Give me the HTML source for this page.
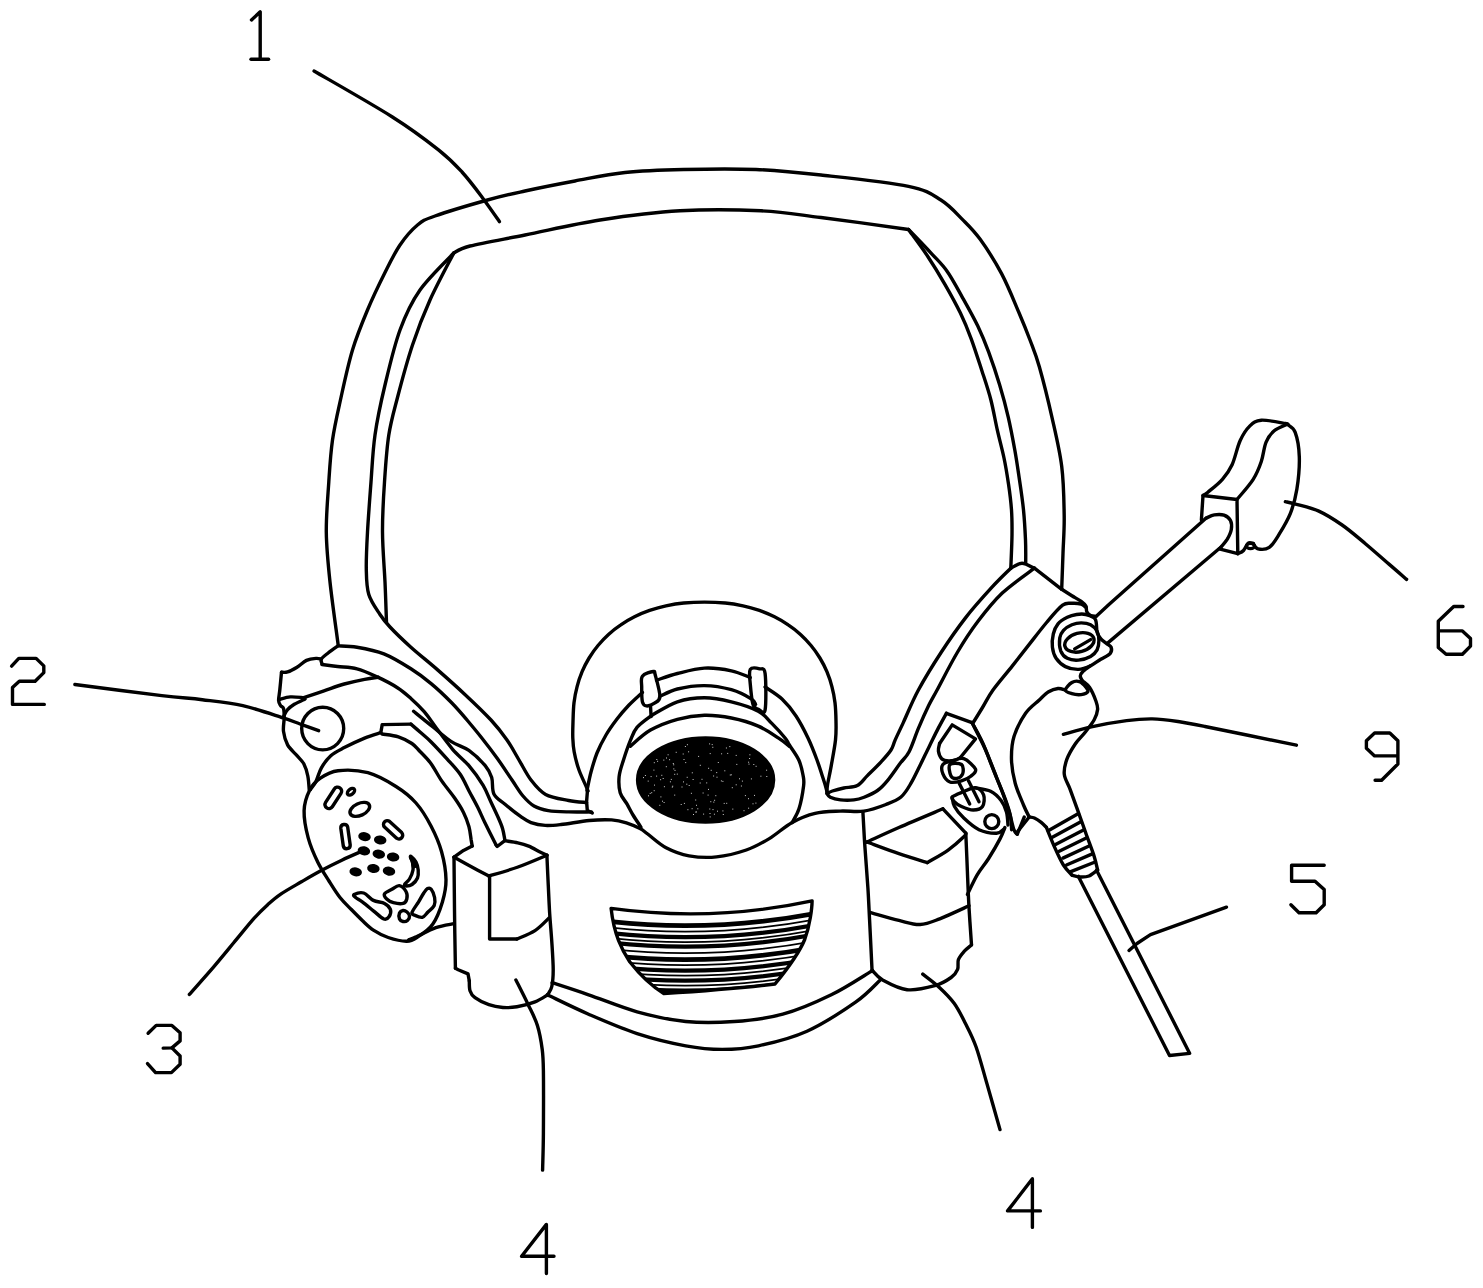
<!DOCTYPE html>
<html><head><meta charset="utf-8"><title>Mask drawing</title>
<style>
html,body{margin:0;padding:0;background:#fff;}
body{width:1483px;height:1288px;overflow:hidden;font-family:"Liberation Sans",sans-serif;}
svg{display:block;}
</style></head><body>
<svg width="1483" height="1288" viewBox="0 0 1483 1288">
<rect width="1483" height="1288" fill="#fff"/>
<g fill="none" stroke="#000" stroke-width="3.4" stroke-linecap="round" stroke-linejoin="round">
<path d="M251.5,19.9 L260.2,11.8 L260.2,59.3"/>
<path d="M251.0,59.3 L268.6,59.3"/>
<path d="M314.0,71.0C327.0,78.6 371.2,103.6 392.0,116.7C412.8,129.8 426.8,140.6 438.5,149.8C450.2,159.0 454.6,163.9 462.0,172.0C469.4,180.1 476.8,190.1 483.0,198.4C489.2,206.7 496.8,217.8 499.5,221.7"/>
<path d="M11.6,666.1 L18.8,658.4 L36.1,658.4 L43.8,665.9 L43.8,672.6 L35.1,681.3 L19.3,681.3 L12.5,687.6 L12.5,704.4 L44.3,704.4"/>
<path d="M74.9,684.5C89.4,686.4 140.6,693.1 161.8,695.6C183.0,698.1 188.8,698.0 202.3,699.7C215.8,701.4 229.3,702.7 242.8,705.7C256.3,708.7 273.7,714.9 283.2,717.9C292.7,720.9 294.1,721.9 300.0,724.0C305.9,726.1 315.5,729.6 318.6,730.7"/>
<path d="M148.1,1033.3 L156.2,1025.4 L171.9,1025.4 L180.1,1032.7 L180.1,1040.9 L171.9,1047.9 L163.2,1048.1"/>
<path d="M171.9,1047.9 L180.1,1056.0 L180.1,1064.2 L171.4,1072.6 L155.6,1072.6 L147.5,1063.6"/>
<path d="M189.4,994.4C193.4,989.8 206.3,975.4 213.7,966.8C221.1,958.1 227.2,950.6 233.9,942.5C240.7,934.4 248.6,924.5 254.2,918.2C259.8,911.9 263.2,908.8 267.7,904.7C272.2,900.7 275.5,897.7 281.1,893.9C286.7,890.1 294.9,885.6 301.4,881.8C307.9,878.0 313.6,874.6 320.3,871.0C327.0,867.4 334.8,863.5 341.8,860.2C348.8,856.9 359.1,852.5 362.5,851.0"/>
<path d="M546.4,1273.5 L546.4,1224.4 L521.6,1256.3 L554.0,1256.3"/>
<path d="M515.9,980.0C517.9,984.0 524.2,996.3 527.8,1003.9C531.4,1011.5 535.0,1017.8 537.4,1025.4C539.8,1033.0 541.2,1041.7 542.2,1049.3C543.2,1056.9 543.2,1057.0 543.4,1070.9C543.6,1084.9 543.5,1116.5 543.4,1133.0C543.3,1149.5 542.7,1163.9 542.6,1170.1"/>
<path d="M1032.4,1227.4 L1032.4,1178.8 L1007.6,1210.9 L1040.4,1210.9"/>
<path d="M922.8,974.1C925.5,976.3 933.9,982.3 939.1,987.2C944.4,992.1 949.9,997.5 954.3,1003.5C958.6,1009.5 961.6,1015.8 965.2,1023.0C968.8,1030.2 972.5,1036.8 976.1,1047.0C979.7,1057.2 983.0,1070.1 987.0,1083.9C991.0,1097.7 997.8,1122.0 1000.0,1129.6"/>
<path d="M1324.2,865.3 L1291.6,865.3 L1291.6,881.2 L1315.0,881.2 L1324.2,889.6 L1324.2,904.7 L1316.1,912.8 L1299.0,912.8 L1290.9,904.7"/>
<path d="M1129.0,950.5 L1137.0,943.5 L1150.5,934.6 L1226.5,907.2"/>
<path d="M1463.0,606.5 L1453.7,606.5 L1438.3,621.3 L1438.3,647.5 L1446.1,654.3 L1462.4,654.3 L1470.5,646.1 L1470.5,638.5 L1462.4,630.9 L1438.3,630.9"/>
<path d="M1285.4,501.7C1287.1,502.1 1289.9,502.5 1295.5,504.1C1301.1,505.7 1311.0,507.6 1318.8,511.1C1326.6,514.6 1334.3,519.6 1342.1,525.0C1349.9,530.4 1357.6,537.2 1365.4,543.7C1373.2,550.2 1381.8,558.0 1388.7,563.9C1395.6,569.8 1403.6,576.8 1406.6,579.4"/>
<path d="M1397.9,755.9 L1374.6,755.9 L1366.4,748.3 L1366.4,740.7 L1374.6,733.0 L1389.8,733.0 L1397.9,740.7 L1397.9,764.0 L1381.6,780.3 L1375.1,780.3"/>
<path d="M1063.4,734.3C1068.2,733.0 1082.0,728.9 1092.5,726.6C1103.0,724.3 1116.6,721.9 1126.6,720.6C1136.6,719.3 1143.8,718.8 1152.3,718.9C1160.8,719.0 1169.1,720.2 1177.9,721.5C1186.7,722.8 1185.2,722.5 1205.0,726.5C1224.8,730.5 1281.2,742.1 1296.4,745.2"/>
<path d="M338.1,644.5C336.8,634.1 332.0,600.8 330.0,582.0C328.0,563.2 326.5,548.7 326.3,532.0C326.1,515.3 327.8,497.3 328.8,482.0C329.8,466.7 330.5,454.1 332.5,440.0C334.5,425.9 337.7,412.5 341.0,397.5C344.3,382.5 348.1,364.6 352.5,350.0C356.9,335.4 362.1,322.9 367.5,310.0C372.9,297.1 379.6,283.3 385.0,272.5C390.4,261.7 394.6,252.9 400.0,245.0C405.4,237.1 411.7,229.8 417.5,225.0C423.3,220.2 423.3,220.2 435.0,216.0C446.7,211.8 472.5,204.2 487.5,200.0C502.5,195.8 510.4,194.2 525.0,191.0C539.6,187.8 558.3,184.1 575.0,181.0C591.7,177.9 606.9,174.4 625.0,172.5C643.1,170.6 661.7,170.0 683.5,169.5C705.3,169.0 733.1,168.6 756.0,169.5C778.9,170.4 795.6,172.2 821.0,175.0C846.4,177.8 888.5,182.1 908.5,186.3C928.5,190.5 931.9,194.4 940.9,200.0C949.9,205.6 956.1,213.1 962.6,219.6C969.1,226.1 973.5,230.1 980.0,239.1C986.5,248.1 995.2,261.6 1001.7,273.9C1008.2,286.2 1014.4,302.0 1019.1,313.0C1023.8,324.0 1026.6,331.0 1030.0,340.0C1033.4,349.0 1035.8,354.2 1039.4,367.0C1043.0,379.8 1048.1,400.1 1051.8,416.6C1055.5,433.2 1059.6,449.7 1061.7,466.3C1063.8,482.9 1064.0,501.5 1064.2,516.0C1064.4,530.5 1063.4,541.1 1063.0,553.3C1062.6,565.5 1061.9,583.0 1061.7,589.0"/>
<path d="M453.8,253.0C456.5,251.8 458.1,249.0 470.0,246.0C481.9,243.0 503.3,239.3 525.0,235.0C546.7,230.7 574.2,224.0 600.0,220.0C625.8,216.0 653.2,212.3 680.0,210.8C706.8,209.3 737.5,209.7 761.0,210.8C784.5,211.9 796.4,214.4 821.0,217.5C845.6,220.6 893.9,227.5 908.5,229.5"/>
<path d="M453.8,253.0C448.2,259.2 429.0,277.2 420.0,290.0C411.0,302.8 405.8,314.2 400.0,330.0C394.2,345.8 389.2,367.5 385.0,385.0C380.8,402.5 377.3,418.8 375.0,435.0C372.7,451.2 372.2,465.8 371.0,482.0C369.8,498.2 368.3,517.4 367.5,532.0C366.7,546.6 366.1,559.1 366.3,569.5C366.5,579.9 366.5,587.0 368.8,594.5C371.1,602.0 376.5,609.1 380.0,614.5C383.5,619.9 384.9,621.5 390.0,627.0C395.1,632.5 402.9,640.0 410.9,647.2C418.9,654.4 428.9,662.2 437.9,670.1C446.9,678.0 456.0,686.1 464.9,694.4C473.8,702.7 484.0,712.4 491.0,720.0C498.0,727.6 502.3,733.3 507.0,740.0C511.7,746.7 515.0,753.3 519.0,760.0C523.0,766.7 526.6,774.3 531.0,780.0C535.4,785.7 539.3,791.0 545.6,794.4C551.9,797.8 561.8,799.1 568.6,800.5C575.4,801.9 583.5,802.2 586.5,802.5"/>
<path d="M453.8,253.0C449.8,260.8 436.9,284.7 430.0,300.0C423.1,315.3 417.9,328.8 412.5,345.0C407.1,361.2 401.4,382.5 397.5,397.5C393.6,412.5 391.0,420.9 388.8,435.0C386.6,449.1 385.6,465.8 384.5,482.0C383.4,498.2 382.4,515.3 382.5,532.0C382.6,548.7 384.3,567.0 385.0,582.0C385.7,597.0 386.2,615.3 386.5,622.0"/>
<path d="M908.5,229.5C911.7,234.0 921.7,247.3 927.8,256.5C933.9,265.7 939.8,275.4 945.2,284.8C950.6,294.2 956.0,303.9 960.4,313.0C964.8,322.1 967.7,329.3 971.3,339.1C974.9,348.9 978.9,361.6 982.2,371.7C985.5,381.8 988.4,390.2 990.9,400.0C993.4,409.8 995.2,420.7 997.4,430.4C999.6,440.1 1002.1,449.1 1004.0,458.0C1005.9,466.9 1007.2,475.3 1008.5,484.0C1009.8,492.7 1010.9,501.5 1011.5,510.0C1012.1,518.5 1012.1,525.3 1012.0,535.0C1011.9,544.7 1011.0,562.7 1010.8,568.2"/>
<path d="M908.5,229.5C912.5,233.6 925.7,247.3 932.2,254.3C938.7,261.3 942.3,264.4 947.4,271.7C952.5,278.9 957.5,288.7 962.6,297.8C967.7,306.9 973.4,317.0 977.8,326.1C982.1,335.2 985.1,342.4 988.7,352.2C992.3,362.0 996.3,373.9 999.6,384.8C1002.9,395.7 1005.8,406.5 1008.3,417.4C1010.8,428.3 1012.9,439.6 1014.8,450.0C1016.7,460.4 1018.0,470.0 1019.5,480.0C1021.0,490.0 1022.5,500.0 1023.5,510.0C1024.5,520.0 1025.1,531.1 1025.5,540.0C1025.9,548.9 1025.7,559.3 1025.7,563.2"/>
<path d="M1010.8,568.2C1012.7,567.4 1018.1,563.2 1022.0,563.2C1025.9,563.2 1032.3,567.4 1034.4,568.2"/>
<path d="M1034.4,568.2 L1061.7,589.3"/>
<path d="M1061.7,589.3C1063.4,590.4 1068.7,593.8 1071.9,595.8C1075.2,597.8 1078.9,599.7 1081.2,601.4C1083.5,603.1 1085.0,604.4 1085.9,606.1C1086.8,607.8 1086.0,610.2 1086.8,611.7C1087.6,613.2 1089.0,614.6 1090.6,615.4C1092.2,616.2 1095.3,616.1 1096.2,616.3"/>
<path d="M1010.8,568.2C1007.7,571.4 999.5,579.0 992.0,587.2C984.5,595.4 974.1,606.8 965.7,617.6C957.3,628.4 949.3,639.9 941.4,652.0C933.5,664.1 924.8,678.2 918.4,690.0C912.0,701.8 907.2,714.2 903.3,722.6C899.4,731.0 897.1,735.5 895.1,740.1C893.1,744.7 893.4,746.3 891.0,750.0C888.6,753.7 884.8,757.8 880.9,762.1C877.0,766.4 871.3,771.7 867.4,775.6C863.5,779.5 861.2,783.5 857.3,785.6C853.4,787.7 847.9,787.1 843.8,788.0C839.6,788.9 835.2,790.1 832.4,791.0C829.6,791.9 827.9,793.1 827.0,793.5"/>
<path d="M1034.4,568.2C1029.0,572.4 1011.4,584.4 1002.0,593.3C992.6,602.2 985.2,611.8 977.8,621.6C970.4,631.4 964.4,640.6 957.6,652.0C950.8,663.4 941.9,681.1 937.1,690.0C932.3,698.9 932.0,698.7 928.9,705.1C925.8,711.5 921.7,720.6 918.4,728.4C915.1,736.2 912.2,745.9 909.1,751.7C906.0,757.6 903.6,758.7 900.0,763.5C896.4,768.3 891.5,775.8 887.7,780.3C884.0,784.8 881.4,787.7 877.5,790.5C873.6,793.3 868.0,795.6 864.1,797.2C860.2,798.8 857.8,799.5 853.9,799.9C850.0,800.3 844.4,800.3 840.5,799.9C836.6,799.5 832.5,798.3 830.3,797.2C828.0,796.1 827.5,794.1 827.0,793.5"/>
<path d="M973.2,722.6C974.8,720.1 979.2,712.9 982.5,707.5C985.8,702.1 988.0,696.9 993.0,690.0C998.0,683.1 1006.0,673.9 1012.2,666.1C1018.4,658.3 1024.2,650.8 1030.0,643.4C1035.8,636.0 1041.6,628.4 1047.0,622.0C1052.4,615.6 1058.4,608.3 1062.6,605.2C1066.8,602.1 1068.8,603.5 1071.9,603.3C1075.0,603.1 1078.9,603.5 1081.2,604.2C1083.5,604.9 1085.2,607.0 1086.0,607.5"/>
<path d="M1085.9,614.5C1082.8,613.7 1079.7,614.0 1076.6,614.5C1073.5,615.0 1070.4,615.8 1067.3,617.3C1064.2,618.8 1060.3,621.0 1058.0,623.8C1055.7,626.6 1054.2,630.1 1053.3,634.0C1052.4,637.9 1051.9,643.1 1052.4,647.1C1052.9,651.1 1053.9,655.0 1056.1,658.3C1058.3,661.5 1061.7,664.8 1065.4,666.6C1069.1,668.5 1074.2,669.5 1078.4,669.4C1082.6,669.2 1086.9,667.4 1090.6,665.7C1094.3,664.0 1097.5,661.2 1100.8,659.2C1104.0,657.2 1108.4,655.6 1110.1,653.6C1111.8,651.6 1111.7,648.8 1111.1,647.1C1110.5,645.4 1108.1,644.8 1106.4,643.4C1104.7,642.0 1102.3,640.6 1100.8,638.7C1099.2,636.8 1098.0,635.5 1097.1,632.2C1096.2,628.9 1097.1,622.1 1095.2,619.1C1093.3,616.1 1089.0,615.3 1085.9,614.5Z"/>
<path d="M1059.8,637.8C1060.3,634.4 1061.5,632.5 1063.5,630.3C1065.5,628.1 1069.0,625.9 1071.9,624.7C1074.9,623.5 1078.1,622.9 1081.2,622.9C1084.3,622.9 1087.9,623.3 1090.6,624.7C1093.2,626.1 1095.7,628.6 1097.1,631.2C1098.5,633.9 1098.9,637.5 1098.9,640.6C1098.9,643.7 1098.5,647.3 1097.1,649.9C1095.7,652.5 1093.7,654.7 1090.6,656.4C1087.5,658.1 1082.3,659.8 1078.4,660.1C1074.5,660.4 1070.2,659.8 1067.3,658.3C1064.3,656.8 1062.0,654.2 1060.7,650.8C1059.5,647.4 1059.3,641.2 1059.8,637.8Z"/>
<ellipse cx="1079.4" cy="642.4" rx="15" ry="9.3" transform="rotate(-15 1079.4 642.4)"/>
<path d="M1074.7,648.9 L1090.6,639.6"/>
<path d="M1097.1,615.4 L1109.2,604.2 L1206.2,518.1"/>
<path d="M1107.3,643.4 L1220.8,547.3"/>
<path d="M1206.2,518.1C1207.5,517.6 1211.3,515.4 1214.3,514.9C1217.3,514.4 1221.3,514.2 1224.0,515.2C1226.7,516.2 1229.3,518.2 1230.5,520.6C1231.7,523.0 1231.8,526.4 1231.3,529.5C1230.8,532.6 1229.0,536.2 1227.3,539.2C1225.5,542.2 1221.9,545.9 1220.8,547.3"/>
<path d="M1201.4,519.8 L1203.0,495.5 L1237.0,499.5 L1237.8,553.7 L1219.2,548.9"/>
<path d="M1203.0,495.5C1203.8,494.9 1204.7,494.9 1207.9,492.2C1211.1,489.5 1218.4,483.9 1222.4,479.3C1226.4,474.7 1229.1,471.2 1232.1,464.7C1235.1,458.2 1237.2,447.0 1240.2,440.5C1243.2,434.0 1246.4,429.3 1249.9,425.9C1253.4,422.5 1255.4,420.6 1261.3,420.2C1267.2,419.8 1281.2,422.8 1285.5,423.5C1289.8,424.2 1286.9,424.2 1287.2,424.3"/>
<path d="M1237.0,499.5C1239.7,496.1 1249.2,485.6 1253.2,479.3C1257.2,473.0 1259.2,467.7 1261.3,461.5C1263.4,455.3 1263.9,447.2 1266.1,442.1C1268.2,437.0 1270.7,433.7 1274.2,430.7C1277.7,427.7 1285.0,425.4 1287.2,424.3"/>
<path d="M1287.2,424.3C1288.5,425.6 1293.2,427.0 1295.2,432.4C1297.2,437.8 1299.0,447.2 1299.3,456.6C1299.6,466.0 1298.4,479.6 1296.9,489.0C1295.4,498.4 1293.4,505.7 1290.4,513.3C1287.4,520.8 1282.6,528.6 1279.1,534.3C1275.6,540.0 1272.8,544.9 1269.3,547.3C1265.8,549.7 1260.7,549.5 1258.0,548.9C1255.3,548.3 1254.0,544.4 1253.2,543.5"/>
<path d="M1253.2,543.5C1252.4,543.4 1249.9,541.8 1248.3,543.0C1246.7,544.2 1245.2,548.7 1243.5,550.5C1241.8,552.3 1238.8,553.2 1237.8,553.7"/>
<ellipse cx="1250.5" cy="546" rx="4" ry="2.6"/>
<path d="M1065.4,690.0C1064.2,689.8 1060.8,688.2 1058.0,688.5C1055.2,688.8 1051.7,689.9 1048.6,691.8C1045.5,693.7 1043.1,696.4 1039.3,700.0C1035.5,703.6 1029.8,707.2 1025.6,713.3C1021.4,719.4 1016.4,728.8 1014.0,736.6C1011.6,744.4 1011.3,752.2 1011.5,760.0C1011.7,767.8 1013.2,775.7 1015.2,783.2C1017.2,790.7 1021.2,799.4 1023.5,805.0C1025.8,810.6 1028.2,815.0 1029.2,817.0"/>
<path d="M1029.2,817.0C1030.1,817.2 1032.4,817.1 1034.4,818.0C1036.4,818.9 1039.2,820.7 1041.2,822.3C1043.2,823.9 1045.5,826.5 1046.4,827.4"/>
<path d="M1065.4,690.0C1065.4,688.1 1069.6,683.9 1071.9,682.5C1074.2,681.1 1077.1,680.8 1079.4,681.6C1081.7,682.4 1084.5,685.4 1085.9,687.1C1087.3,688.8 1088.6,690.5 1087.8,691.8C1087.0,693.0 1083.8,694.3 1081.2,694.6C1078.6,694.9 1074.5,694.5 1071.9,693.7C1069.3,692.9 1065.4,691.9 1065.4,690.0Z"/>
<path d="M1090.6,665.7C1089.3,666.6 1084.8,669.6 1083.1,671.3C1081.4,673.0 1080.4,674.5 1080.3,676.0C1080.2,677.5 1081.9,679.8 1082.2,680.6"/>
<path d="M1082.2,680.6C1083.4,681.8 1087.3,684.1 1089.6,687.5C1091.9,690.9 1094.6,697.3 1095.9,701.0C1097.2,704.7 1097.9,706.4 1097.6,709.5C1097.3,712.6 1096.2,716.1 1094.2,719.8C1092.2,723.5 1088.7,727.7 1085.6,731.7C1082.5,735.7 1078.5,739.1 1075.4,743.7C1072.3,748.3 1068.8,754.0 1066.9,759.1C1065.1,764.2 1063.7,769.3 1064.3,774.4C1064.9,779.5 1068.2,784.1 1070.3,789.8C1072.4,795.5 1074.5,801.5 1077.1,808.6C1079.6,815.7 1082.8,824.5 1085.6,832.5C1088.4,840.5 1092.2,850.1 1094.2,856.4C1096.2,862.6 1097.0,867.7 1097.6,870.0"/>
<path d="M1046.4,827.4C1047.8,830.8 1052.1,841.6 1054.9,847.9C1057.7,854.2 1060.6,860.5 1063.4,865.0C1066.2,869.5 1070.6,873.5 1072.0,875.2"/>
<path d="M1072.0,875.2C1073.3,875.5 1077.2,876.9 1080.0,877.0C1082.8,877.1 1086.1,877.2 1089.0,876.0C1091.9,874.8 1096.2,871.0 1097.6,870.0"/>
<path d="M1078.4,876.4 L1169.5,1055.5 L1189.7,1053.4 L1096.6,870.3"/>
<path d="M1024.2,817.1 L1017.3,834.2"/>
<path d="M1029.2,817.0 L1016.3,833.2"/>
<path d="M1048.2,830.8 L1078.5,813.5"/>
<path d="M1051.9,837.6 L1081.3,821.6"/>
<path d="M1055.5,844.5 L1084.0,829.7"/>
<path d="M1059.2,851.3 L1086.8,837.8"/>
<path d="M1062.9,858.1 L1089.6,845.8"/>
<path d="M1066.5,865.0 L1092.3,853.9"/>
<path d="M1070.2,871.8 L1095.1,862.0"/>
<path d="M946.4,713.3 L972.0,722.6"/>
<path d="M972.0,722.6C973.8,725.9 978.8,734.2 982.5,742.4C986.2,750.5 990.6,762.8 994.1,771.5C997.6,780.2 1000.9,788.0 1003.4,794.8C1005.9,801.6 1007.5,806.5 1009.3,812.3C1011.0,818.1 1012.6,826.1 1013.9,829.7C1015.2,833.4 1016.7,833.5 1017.3,834.2"/>
<path d="M972.0,722.6C974.1,726.9 980.7,739.1 984.8,748.2C988.9,757.3 993.0,768.6 996.5,777.3C1000.0,786.0 1003.5,794.2 1005.8,800.6C1008.1,807.0 1009.4,810.9 1010.4,815.8C1011.4,820.6 1011.4,827.4 1011.6,829.7"/>
<path d="M939.6,743.5 L952.2,724.9 L975.5,738.9 L960.4,757.5"/>
<path d="M960.4,757.5C959.5,758.0 957.0,759.6 955.0,760.2C953.0,760.8 950.9,761.2 948.7,761.0C946.5,760.8 943.4,760.4 941.7,758.7C940.0,757.0 938.8,753.5 938.4,751.0C938.0,748.5 939.4,744.8 939.6,743.5"/>
<path d="M942.9,764.5C944.5,762.4 948.7,762.0 952.2,761.0C955.7,760.0 959.9,757.3 963.8,758.7C967.7,760.1 974.3,766.3 975.5,769.2C976.7,772.1 973.1,774.3 970.8,776.2C968.5,778.1 965.0,779.8 961.5,780.8C958.0,781.8 953.0,783.2 949.9,782.0C946.8,780.8 944.1,776.7 942.9,773.8C941.7,770.9 941.3,766.6 942.9,764.5Z"/>
<path d="M949.9,764.5C951.6,762.6 959.4,763.0 961.5,764.5C963.6,766.0 963.5,771.5 962.7,773.8C961.9,776.1 958.9,778.0 956.9,778.4C954.9,778.8 952.2,778.3 951.0,776.0C949.8,773.7 948.1,766.4 949.9,764.5Z"/>
<path d="M959.2,783.2 L969.7,804.1"/>
<path d="M968.5,780.8 L979.0,801.8"/>
<path d="M952.2,797.1C953.4,795.6 957.6,794.0 961.5,792.5C965.4,791.0 971.8,787.4 975.5,787.8C979.2,788.2 982.4,791.7 983.6,794.8C984.8,797.9 984.2,804.0 982.5,806.5C980.8,809.0 976.7,810.0 973.2,810.0C969.7,810.0 964.6,807.9 961.5,806.5C958.4,805.1 956.0,803.4 954.5,801.8C953.0,800.2 951.0,798.6 952.2,797.1Z"/>
<path d="M952.2,797.1C952.6,798.7 952.6,803.0 954.5,806.5C956.4,810.0 959.7,814.2 963.8,818.1C967.9,822.0 973.5,827.2 979.0,829.7C984.5,832.2 992.3,833.3 996.5,833.2C1000.7,833.1 1002.8,829.7 1004.0,829.0"/>
<path d="M975.5,787.8C978.0,788.4 986.3,789.2 990.6,791.3C994.9,793.4 998.5,797.1 1001.1,800.6C1003.8,804.1 1005.4,807.9 1006.5,812.0C1007.6,816.1 1007.8,822.8 1008.0,825.0"/>
<ellipse cx="991.8" cy="821.6" rx="7" ry="7"/>
<path d="M967.4,894.4C969.0,891.1 973.7,880.8 977.2,874.8C980.7,868.8 984.8,864.5 988.6,858.5C992.4,852.5 997.3,844.1 1000.0,838.9C1002.7,833.7 1004.1,829.4 1004.9,827.5"/>
<path d="M587.5,790.0 L586.6,801.5 L587.3,810.5 L592.3,813.0"/>
<path d="M588.0,791.0C587.6,790.1 587.4,789.4 585.9,785.9C584.4,782.4 581.0,775.6 579.0,770.0C577.0,764.4 575.2,757.3 574.2,752.0C573.2,746.7 573.0,743.1 572.8,738.0C572.6,732.9 572.8,727.5 573.0,721.6C573.2,715.7 573.3,708.7 574.0,702.8C574.7,697.0 575.7,691.8 577.1,686.6C578.4,681.4 580.1,676.5 582.1,671.7C584.1,666.9 586.5,662.3 589.1,658.0C591.8,653.6 594.7,649.4 598.0,645.5C601.2,641.6 604.7,637.8 608.5,634.4C612.3,630.9 616.4,627.7 620.8,624.8C625.1,621.8 629.7,619.1 634.5,616.7C639.3,614.4 644.3,612.2 649.6,610.4C654.8,608.6 660.3,607.0 666.0,605.8C671.7,604.6 677.4,603.6 683.8,603.0C690.3,602.4 697.6,602.1 704.5,602.1C711.4,602.1 718.7,602.4 725.2,603.0C731.6,603.6 737.3,604.6 743.0,605.8C748.7,607.0 754.2,608.6 759.4,610.4C764.7,612.2 769.7,614.4 774.5,616.7C779.3,619.1 783.9,621.8 788.2,624.8C792.6,627.7 796.7,630.9 800.5,634.4C804.3,637.8 807.8,641.6 811.0,645.5C814.3,649.4 817.2,653.6 819.9,658.0C822.5,662.3 824.9,666.9 826.9,671.7C828.9,676.5 830.6,681.4 831.9,686.6C833.3,691.8 834.3,697.0 835.0,702.8C835.7,708.7 835.9,715.4 836.0,721.6C836.1,727.8 836.3,732.7 835.5,740.0C834.7,747.3 832.6,757.9 831.3,765.4C830.0,772.9 828.2,780.6 827.5,785.0C826.8,789.4 827.1,790.8 827.0,792.0"/>
<path d="M587.0,790.4C587.7,787.3 589.3,778.2 591.0,772.0C592.7,765.8 594.5,759.2 597.0,753.0C599.5,746.8 602.7,740.7 606.0,735.0C609.3,729.3 613.2,724.0 617.0,719.0C620.8,714.0 624.8,709.4 629.0,705.0C633.2,700.6 640.2,694.5 642.4,692.4"/>
<path d="M765.1,687.0C767.9,689.0 776.9,694.2 782.0,699.0C787.1,703.8 791.7,709.5 796.0,716.0C800.3,722.5 804.5,730.7 808.0,738.0C811.5,745.3 814.7,753.8 817.0,760.0C819.3,766.2 820.6,770.7 822.0,775.0C823.4,779.3 824.7,783.2 825.5,786.0C826.3,788.8 826.8,791.0 827.0,792.0"/>
<path d="M656.5,680.2C660.0,679.1 669.4,675.5 677.4,673.5C685.4,671.5 695.4,668.6 704.4,668.1C713.4,667.6 723.8,669.2 731.4,670.8C739.0,672.4 747.1,676.4 750.3,677.5"/>
<path d="M659.9,696.4C662.8,695.2 670.0,690.8 677.4,689.0C684.8,687.2 695.4,685.5 704.4,685.6C713.4,685.7 723.5,687.5 731.4,689.7C739.3,692.0 747.6,696.6 751.6,699.1C755.6,701.6 754.9,703.6 755.6,704.5"/>
<path d="M642.4,676.2C644.3,673.6 651.1,671.7 653.2,671.5C655.3,671.3 654.1,670.6 655.2,674.8C656.3,678.9 660.0,691.7 659.9,696.4C659.8,701.1 656.8,701.6 654.5,703.2C652.2,704.8 648.4,706.1 646.4,705.9C644.4,705.7 643.2,704.9 642.4,701.8C641.6,698.6 641.7,691.3 641.7,687.0C641.7,682.7 640.5,678.8 642.4,676.2Z"/>
<path d="M750.3,669.4C751.9,666.8 757.2,668.1 759.7,668.8C762.2,669.5 764.2,666.6 765.1,673.5C766.0,680.4 766.2,703.9 765.1,709.9C764.0,715.9 760.3,710.1 758.3,709.2C756.3,708.3 754.3,708.6 753.0,704.5C751.7,700.4 750.8,690.1 750.3,684.3C749.8,678.4 748.7,672.0 750.3,669.4Z"/>
<path d="M650.5,705.9 L651.1,716.6"/>
<path d="M651.8,715.3C656.1,713.0 668.6,704.7 677.4,701.8C686.2,698.9 695.4,697.8 704.4,697.8C713.4,697.8 722.4,699.6 731.4,701.8C740.4,704.0 751.6,707.6 758.3,711.2C765.0,714.8 767.3,718.9 771.8,723.4C776.3,727.9 782.4,734.6 785.3,738.2C788.2,741.8 787.1,741.4 789.4,745.0C791.6,748.6 796.5,755.0 798.8,760.0C801.1,765.0 802.2,770.7 803.0,775.0C803.8,779.3 804.3,780.3 803.6,785.9C802.9,791.5 800.9,802.7 799.0,808.8C797.1,814.9 793.3,820.2 792.2,822.5"/>
<path d="M651.8,715.3C649.3,717.3 640.6,723.1 637.0,727.4C633.4,731.7 632.5,735.5 630.2,740.9C628.0,746.3 625.4,754.0 623.5,760.0C621.6,766.0 619.6,771.2 619.1,776.7C618.6,782.2 618.9,788.1 620.2,792.7C621.5,797.3 625.0,800.5 627.1,804.2C629.2,807.9 630.7,811.2 633.0,815.0C635.3,818.8 639.6,825.1 640.9,827.1"/>
<path d="M630.2,746.3C633.6,743.6 642.6,734.6 650.5,730.1C658.4,725.6 668.4,721.8 677.4,719.3C686.4,716.8 695.4,715.5 704.4,715.3C713.4,715.1 722.4,716.2 731.4,718.0C740.4,719.8 750.4,722.7 758.3,726.1C766.2,729.5 773.4,734.8 778.6,738.2C783.8,741.6 787.6,744.9 789.4,746.3"/>
<ellipse cx="705.6" cy="780" rx="68" ry="42" fill="#000"/>
<path d="M413.6,711.3C416.8,713.9 426.7,722.0 433.0,727.0C439.3,732.0 445.4,737.7 451.4,741.6C457.4,745.5 463.3,746.4 468.9,750.4C474.5,754.4 481.4,761.2 485.2,765.7C489.0,770.2 490.2,772.9 491.7,777.6C493.1,782.3 491.7,789.5 493.9,793.9C496.1,798.3 500.2,800.2 504.7,804.0C509.2,807.8 516.5,813.6 520.9,816.7C525.3,819.8 527.0,821.2 531.0,822.6C535.0,824.0 540.2,825.1 545.2,825.4C550.2,825.7 553.6,825.3 561.0,824.5C568.4,823.7 580.9,821.3 589.3,820.5C597.7,819.7 605.4,819.5 611.6,819.9C617.8,820.3 621.7,821.4 626.4,822.9C631.1,824.4 636.5,826.8 640.0,828.6C643.5,830.5 643.4,830.8 647.7,834.0C652.1,837.2 659.2,844.1 666.1,847.7C673.0,851.3 680.6,854.3 689.0,855.8C697.4,857.3 707.0,857.9 716.5,856.9C726.0,855.9 737.5,853.0 746.3,850.0C755.1,847.0 761.6,843.2 769.3,838.6C776.9,834.0 784.6,826.7 792.2,822.5C799.8,818.3 807.1,815.3 815.1,813.4C823.1,811.5 832.1,811.5 840.2,811.1C848.3,810.7 856.2,812.2 863.8,811.1C871.4,810.0 879.8,806.9 886.0,804.5C892.2,802.1 896.8,800.5 901.0,797.0C905.2,793.5 907.8,788.6 911.0,783.2C914.2,777.8 917.4,770.7 920.5,764.5C923.6,758.3 926.5,751.9 929.5,745.9C932.5,739.9 935.4,733.8 938.2,728.4C941.0,723.0 945.0,715.8 946.4,713.3"/>
<path d="M546.9,855.2C547.1,860.3 547.8,876.1 548.3,885.9C548.8,895.7 549.1,904.5 549.7,913.8C550.3,923.1 551.2,932.5 551.8,941.8C552.4,951.1 553.2,962.2 553.2,969.7C553.2,977.2 552.7,982.3 551.8,986.5C550.9,990.7 548.3,993.5 547.6,994.9"/>
<path d="M862.9,812.0C863.2,817.3 863.9,831.2 864.7,843.8C865.5,856.4 867.1,875.0 867.9,887.8C868.7,900.6 868.9,906.8 869.6,920.4C870.3,934.0 871.6,961.2 872.0,969.4"/>
<path d="M552.1,982.7C558.2,984.7 574.4,989.9 588.6,994.8C602.8,999.6 620.9,1007.3 637.1,1011.8C653.3,1016.2 669.5,1019.9 685.7,1021.5C701.9,1023.1 718.0,1022.7 734.2,1021.5C750.4,1020.3 766.6,1018.7 782.8,1014.2C799.0,1009.8 816.3,1002.1 831.3,994.8C846.3,987.5 865.7,974.5 872.6,970.5"/>
<path d="M547.3,994.8C554.2,998.0 573.6,1007.7 588.6,1014.2C603.6,1020.7 620.9,1028.3 637.1,1033.6C653.3,1038.9 671.5,1043.2 685.7,1045.8C699.9,1048.4 710.0,1049.4 722.1,1049.4C734.2,1049.4 744.4,1048.8 758.5,1045.8C772.6,1042.8 790.8,1038.5 807.0,1031.2C823.2,1023.9 843.4,1010.6 855.6,1002.1C867.8,993.6 875.9,983.9 880.0,980.2"/>
<path d="M338.1,645.9C341.2,646.1 349.4,645.9 357.0,647.2C364.6,648.5 374.9,650.3 383.9,653.9C392.9,657.5 403.0,663.8 410.9,668.8C418.8,673.8 424.4,678.0 431.1,683.6C437.9,689.2 445.4,696.4 451.4,702.5C457.4,708.6 462.1,714.2 467.0,720.0C471.9,725.8 476.0,730.7 481.0,737.0C486.0,743.3 491.8,750.8 497.0,758.0C502.2,765.2 507.7,773.7 512.0,780.0C516.3,786.3 519.3,791.7 523.0,796.0C526.7,800.3 529.8,803.6 534.0,806.0C538.2,808.4 542.5,809.6 548.3,810.6C554.1,811.6 561.4,811.7 568.6,811.9C575.8,812.1 587.7,811.9 591.5,811.9"/>
<path d="M337.6,646.2C336.0,647.3 330.8,650.9 328.1,653.0C325.4,655.1 322.4,657.2 321.4,659.0C320.4,660.8 321.9,663.0 322.0,663.8"/>
<path d="M322.0,664.5C324.6,664.8 331.8,665.8 337.6,666.5C343.4,667.2 350.4,667.1 357.0,668.8C363.6,670.5 370.5,673.8 377.2,676.9C383.9,680.0 391.8,684.1 397.4,687.7C403.0,691.3 406.4,694.4 410.9,698.4C415.4,702.4 420.2,707.0 424.4,711.9C428.6,716.8 431.6,721.8 436.3,728.0C441.0,734.2 447.2,743.0 452.6,749.3C458.0,755.6 463.8,759.7 468.9,765.7C474.0,771.7 479.4,779.2 483.0,785.2C486.6,791.2 488.1,796.1 490.7,801.5C493.2,806.9 496.3,813.3 498.3,817.8C500.3,822.3 501.5,825.1 502.6,828.7C503.7,832.3 504.4,837.8 504.8,839.6"/>
<path d="M321.4,659.0C320.5,658.9 318.5,658.2 316.0,658.4C313.5,658.6 309.7,658.9 306.5,660.4C303.3,661.9 300.1,665.3 297.0,667.2C293.9,669.1 290.2,671.1 287.6,671.9C285.0,672.7 282.5,672.2 281.5,672.2"/>
<path d="M281.5,672.2C281.2,675.2 280.3,685.3 279.8,690.0C279.3,694.7 278.5,697.9 278.6,700.5C278.7,703.1 279.8,704.4 280.6,705.7C281.4,707.0 282.9,706.4 283.5,708.4C284.1,710.4 284.2,714.0 284.2,717.8C284.2,721.6 282.9,726.9 283.5,731.4C284.1,735.9 285.4,740.8 287.6,744.9C289.9,749.0 294.3,752.6 297.0,755.7C299.7,758.9 302.0,760.4 303.8,763.8C305.6,767.2 306.9,771.7 307.8,776.0C308.7,780.3 309.0,787.2 309.2,789.5"/>
<path d="M279.0,699.5C280.9,699.1 286.2,697.2 290.3,696.9C294.4,696.6 301.6,697.5 303.8,697.6"/>
<path d="M303.8,697.6C307.2,696.5 317.2,693.1 324.0,690.8C330.8,688.5 337.5,685.9 344.3,684.0C351.1,682.1 359.0,680.4 364.6,679.3C370.2,678.2 375.8,677.6 378.0,677.3"/>
<path d="M283.5,716.5C284.2,715.4 285.8,711.7 287.6,709.7C289.4,707.7 291.4,706.1 294.3,704.3C297.2,702.5 303.3,699.8 305.1,698.9"/>
<ellipse cx="322.7" cy="728.6" rx="21" ry="21.3"/>
<path d="M380.8,732.7 L382.2,724.6 L410.9,724.1"/>
<path d="M410.9,724.1C412.4,725.4 416.7,729.1 420.0,732.0C423.3,734.9 426.4,737.2 430.9,741.7C435.4,746.2 442.3,753.7 447.2,759.1C452.1,764.5 456.6,769.0 460.2,774.3C463.8,779.6 466.0,785.2 468.9,790.7C471.8,796.2 474.9,801.6 477.6,807.0C480.3,812.4 482.1,817.0 485.2,823.3C488.3,829.6 494.3,841.4 496.1,845.0"/>
<path d="M380.8,732.7C378.1,733.6 370.7,735.6 364.6,738.1C358.5,740.6 349.9,744.7 344.3,747.6C338.7,750.5 334.6,752.3 330.8,755.7C327.0,759.1 323.9,763.5 321.4,767.8C318.9,772.1 317.8,777.8 316.0,781.4C314.2,785.0 311.4,788.1 310.5,789.5"/>
<path d="M382.2,734.0C384.9,734.5 393.4,735.2 398.4,736.8C403.3,738.4 408.3,741.0 411.9,743.5C415.5,746.0 416.8,748.2 420.0,751.5C423.2,754.8 427.3,758.6 430.9,763.5C434.5,768.4 437.7,775.1 441.7,780.9C445.7,786.7 451.2,793.0 454.8,798.3C458.4,803.5 461.1,807.7 463.5,812.4C465.9,817.1 467.6,822.0 468.9,826.5C470.2,831.0 470.6,836.3 471.1,839.6C471.7,842.9 472.0,845.0 472.2,846.1"/>
<path d="M472.2,846.1 L463.5,850.4 L454.0,857.2"/>
<path d="M496.1,845.0 L497.2,846.5 L504.8,840.7"/>
<path d="M309.5,790.4C312.2,785.0 315.6,781.5 320.4,778.2C325.1,774.9 330.1,771.6 338.0,770.7C345.9,769.8 358.2,770.1 367.9,772.7C377.6,775.3 388.0,781.5 396.0,786.5C404.0,791.5 410.2,796.4 416.0,803.0C421.8,809.6 426.8,817.9 431.0,826.0C435.2,834.1 439.0,842.5 441.5,851.5C444.0,860.5 445.9,871.3 446.0,879.7C446.1,888.1 444.6,894.5 442.4,901.9C440.2,909.3 436.8,918.4 432.7,924.2C428.6,930.0 422.2,934.0 417.9,936.8C413.6,939.6 411.8,941.1 406.8,941.2C401.9,941.3 393.8,939.4 388.2,937.5C382.6,935.6 377.7,932.9 373.4,930.1C369.1,927.3 366.0,924.0 362.3,920.5C358.6,917.0 354.8,913.1 351.1,909.3C347.4,905.5 343.7,902.2 340.0,897.5C336.3,892.8 332.7,886.9 329.0,881.0C325.3,875.1 321.2,869.2 317.7,862.0C314.2,854.8 310.5,846.4 308.2,837.9C305.9,829.4 303.9,818.7 304.1,810.8C304.3,802.9 306.8,795.8 309.5,790.4Z"/>
<path d="M408.7,939.8C409.8,939.3 411.0,939.1 415.5,937.1C420.0,935.1 429.5,929.9 435.9,927.6C442.3,925.4 451.0,924.3 454.0,923.6"/>
<path d="M332.3,806.8L341.0,793.4A4.0,4.0 0 0 0 334.3,789.0L325.6,802.4A4.0,4.0 0 0 0 332.3,806.8Z"/>
<ellipse cx="351" cy="791.7" rx="4.2" ry="2.6" transform="rotate(-40 351 791.7)"/>
<ellipse cx="359.8" cy="809.4" rx="10.5" ry="6" transform="rotate(-25 359.8 809.4)"/>
<path d="M384.5,827.0L396.6,838.2A3.8,3.8 0 0 0 401.7,832.6L389.6,821.4A3.8,3.8 0 0 0 384.5,827.0Z"/>
<path d="M340.8,828.2L343.3,846.0A3.5,3.5 0 0 0 350.2,845.0L347.7,827.2A3.5,3.5 0 0 0 340.8,828.2Z"/>
<ellipse cx="364.5" cy="836.6" rx="4.6" ry="2.8" transform="rotate(10 364.5 836.6)" fill="#000"/>
<ellipse cx="380.2" cy="840" rx="4.6" ry="2.8" transform="rotate(10 380.2 840)" fill="#000"/>
<ellipse cx="363.9" cy="850.8" rx="4.6" ry="2.8" transform="rotate(10 363.9 850.8)" fill="#000"/>
<ellipse cx="378.8" cy="854.2" rx="4.6" ry="2.8" transform="rotate(10 378.8 854.2)" fill="#000"/>
<ellipse cx="393.1" cy="857" rx="4.6" ry="2.8" transform="rotate(10 393.1 857)" fill="#000"/>
<ellipse cx="355.7" cy="871.9" rx="4.6" ry="2.8" transform="rotate(10 355.7 871.9)" fill="#000"/>
<ellipse cx="373.4" cy="868.5" rx="4.6" ry="2.8" transform="rotate(10 373.4 868.5)" fill="#000"/>
<ellipse cx="389" cy="871.2" rx="4.6" ry="2.8" transform="rotate(10 389 871.2)" fill="#000"/>
<path d="M411.2,856.5C412.1,857.2 414.8,859.8 416.0,862.0C417.2,864.2 417.9,867.3 418.2,870.0C418.4,872.7 418.5,875.6 417.5,878.0C416.5,880.4 413.8,883.2 412.0,884.5C410.2,885.8 407.8,886.0 406.5,886.0C405.2,886.0 404.0,885.8 404.5,884.6C405.0,883.4 408.1,881.4 409.5,879.0C410.9,876.6 412.5,872.8 413.0,870.0C413.5,867.2 412.9,864.1 412.5,862.0C412.1,859.9 410.7,858.4 410.5,857.5C410.3,856.6 410.3,855.8 411.2,856.5Z"/>
<path d="M410.6,856.8 L414.5,861 L416.3,866 L413.3,867 L412.3,861.5Z" fill="#000"/>
<path d="M384.5,893.8C385.4,892.2 389.4,890.7 391.9,889.3C394.4,887.9 396.9,885.2 399.3,885.6C401.7,886.0 404.8,889.3 406.0,891.5C407.2,893.7 407.3,897.0 406.8,899.0C406.3,901.0 405.3,902.8 403.1,903.4C400.9,904.0 396.1,903.4 393.4,902.7C390.7,902.0 388.2,900.5 386.7,899.0C385.2,897.5 383.6,895.4 384.5,893.8Z"/>
<path d="M354.1,894.5C355.5,893.8 360.5,892.0 363.7,893.0C366.9,894.0 369.9,898.7 373.4,900.4C376.9,902.1 381.7,901.9 384.5,903.4C387.3,904.9 389.6,907.1 390.4,909.3C391.1,911.5 390.1,915.2 389.0,916.8C387.9,918.4 386.4,920.0 383.8,919.0C381.2,918.0 377.0,913.6 373.4,910.8C369.8,907.9 365.3,904.1 362.3,901.9C359.3,899.7 357.0,898.7 355.6,897.5C354.2,896.3 352.8,895.2 354.1,894.5Z"/>
<path d="M399.5,913.0C400.1,911.6 401.8,910.7 403.0,910.5C404.2,910.3 405.9,911.1 407.0,912.0C408.1,912.9 409.4,914.6 409.5,916.0C409.6,917.4 408.6,919.6 407.5,920.5C406.4,921.4 404.3,921.8 403.0,921.5C401.7,921.2 400.1,920.4 399.5,919.0C398.9,917.6 398.9,914.4 399.5,913.0Z"/>
<path d="M427.5,888.6C428.7,888.0 430.0,887.8 431.2,889.3C432.4,890.8 434.1,894.8 434.6,897.5C435.1,900.2 435.3,903.1 434.2,905.5C433.1,907.9 430.0,910.0 428.0,912.0C426.0,914.0 424.5,916.8 422.3,917.3C420.1,917.8 416.6,916.1 414.9,915.3C413.2,914.5 411.4,914.7 412.0,912.5C412.6,910.3 416.6,905.1 418.6,901.9C420.6,898.6 422.3,895.2 423.8,893.0C425.3,890.8 426.3,889.2 427.5,888.6Z"/>
<path d="M454.0,857.2C456.7,858.7 464.2,862.9 470.0,866.0C475.8,869.1 485.8,874.4 488.9,876.1"/>
<path d="M488.9,876.1C493.8,874.6 508.3,870.5 518.0,867.0C527.7,863.5 542.1,857.2 546.9,855.2"/>
<path d="M504.8,840.7C507.0,841.1 513.8,841.9 517.8,842.8C521.8,843.7 525.0,844.6 528.7,846.1C532.4,847.6 537.0,850.5 540.0,852.0C543.0,853.5 545.8,854.7 546.9,855.2"/>
<path d="M489.6,876.1 L489.6,939.0 L516.9,939.0"/>
<path d="M516.9,939.0C519.9,937.6 529.6,934.1 535.0,930.6C540.4,927.1 546.7,920.1 549.0,918.0"/>
<path d="M454.0,857.2C454.1,866.0 454.3,891.5 454.5,910.0C454.7,928.5 455.2,958.6 455.4,968.3"/>
<path d="M455.4,968.3 L458.2,969.7 L468.0,973.9 L469.3,980.9"/>
<path d="M469.3,980.9C469.4,982.5 469.1,987.9 470.0,990.7C470.9,993.5 471.9,995.4 475.0,997.7C478.1,1000.0 484.2,1003.1 488.9,1004.7C493.5,1006.3 498.2,1007.1 502.9,1007.5C507.6,1007.9 511.5,1007.7 516.9,1006.8C522.2,1005.9 529.9,1003.9 535.0,1001.9C540.1,999.9 545.5,996.1 547.6,994.9"/>
<path d="M866.3,842.2C871.7,839.8 886.1,833.1 898.9,827.5C911.7,821.9 935.6,811.9 942.9,808.8"/>
<path d="M942.9,808.8 L965.8,833.2"/>
<path d="M867.0,842.0C872.3,843.9 888.8,850.2 898.9,853.6C909.0,857.0 922.6,861.1 927.4,862.6"/>
<path d="M927.4,862.6C930.8,860.5 941.7,854.6 947.8,850.3C953.9,845.9 961.1,839.4 964.1,836.5C967.1,833.6 965.5,833.8 965.8,833.2"/>
<path d="M965.8,833.2C966.1,839.6 966.9,859.1 967.4,871.5C967.9,883.9 968.3,895.2 969.0,907.4C969.7,919.6 971.1,938.6 971.5,944.9"/>
<path d="M869.6,912.3C874.5,913.6 890.5,918.4 898.9,920.4C907.3,922.4 913.3,924.8 920.1,924.5C926.9,924.2 931.6,921.9 939.7,918.8C947.9,915.7 964.1,908.0 969.0,905.8"/>
<path d="M971.5,944.9C970.3,946.0 966.3,948.9 964.1,951.4C961.9,953.9 959.5,956.6 958.4,959.6C957.3,962.6 958.8,966.4 957.6,969.4C956.4,972.4 954.9,974.8 951.1,977.5C947.3,980.2 942.1,983.7 934.8,985.7C927.5,987.7 915.8,990.7 907.1,989.7C898.4,988.8 888.5,983.2 882.6,980.0C876.8,976.8 873.8,971.8 872.0,970.2"/>
<clipPath id="gc"><path d="M611.1,908.4 Q712,922.3 812.1,900.9 C812,908 810,925 804.7,939.5 C800,951 793,962 775,984 C750,987 720,990 663.8,993.6 C650,985 640,975 629.7,961.8 C622,950 614,935 611.1,908.4Z"/></clipPath>
<path d="M611.1,908.4 Q712,922.3 812.1,900.9 C812,908 810,925 804.7,939.5 C800,951 793,962 775,984 C750,987 720,990 663.8,993.6 C650,985 640,975 629.7,961.8 C622,950 614,935 611.1,908.4Z"/>
<g clip-path="url(#gc)"><path d="M600,920.4 Q712,934.3 825,911.5" stroke-width="4.6"/><path d="M600,931.9 Q712,945.8 825,923.0" stroke-width="4.2"/><path d="M600,941.4 Q712,955.3 825,932.5" stroke-width="4.2"/><path d="M600,954.4 Q712,968.3 825,945.5" stroke-width="4.6"/><path d="M600,965.4 Q712,979.3 825,956.5" stroke-width="4.2"/><path d="M600,975.4 Q712,989.3 825,966.5" stroke-width="4.2"/><path d="M600,985.4 Q712,999.3 825,976.5" stroke-width="4.2"/><path d="M600,926.4 Q712,940.3 825,917.5" stroke-width="1.6"/><path d="M600,936.9 Q712,950.8 825,928.0" stroke-width="1.6"/><path d="M600,947.9 Q712,961.8 825,939.0" stroke-width="1.8"/><path d="M600,959.9 Q712,973.8 825,951.0" stroke-width="1.6"/><path d="M600,970.4 Q712,984.3 825,961.5" stroke-width="1.6"/><path d="M600,980.4 Q712,994.3 825,971.5" stroke-width="1.6"/></g>
<g fill="#fff" stroke="none" opacity="0.8"><rect x="682.7" y="753.5" width="1" height="1"/><rect x="725.9" y="747.5" width="1" height="1"/><rect x="710.7" y="769.8" width="1" height="1"/><rect x="647.7" y="780.6" width="1" height="1"/><rect x="644.9" y="775.0" width="1" height="1"/><rect x="696.0" y="804.8" width="1" height="1"/><rect x="656.3" y="759.0" width="1" height="1"/><rect x="722.8" y="814.0" width="1" height="1"/><rect x="716.2" y="772.1" width="1" height="1"/><rect x="753.3" y="764.0" width="1" height="1"/><rect x="680.7" y="804.0" width="1" height="1"/><rect x="663.9" y="786.2" width="1" height="1"/><rect x="724.3" y="770.3" width="1" height="1"/><rect x="712.3" y="746.8" width="1" height="1"/><rect x="729.8" y="774.5" width="1" height="1"/><rect x="681.5" y="786.5" width="1" height="1"/><rect x="699.8" y="764.8" width="1" height="1"/><rect x="744.9" y="795.1" width="1" height="1"/><rect x="672.2" y="785.7" width="1" height="1"/><rect x="709.3" y="808.5" width="1" height="1"/><rect x="736.3" y="763.9" width="1" height="1"/><rect x="695.2" y="799.5" width="1" height="1"/><rect x="660.1" y="779.2" width="1" height="1"/><rect x="740.9" y="785.5" width="1" height="1"/><rect x="755.6" y="765.8" width="1" height="1"/><rect x="731.8" y="787.2" width="1" height="1"/><rect x="716.5" y="776.7" width="1" height="1"/><rect x="702.6" y="792.5" width="1" height="1"/><rect x="648.0" y="795.3" width="1" height="1"/><rect x="748.5" y="763.6" width="1" height="1"/><rect x="690.9" y="792.8" width="1" height="1"/><rect x="643.0" y="777.1" width="1" height="1"/><rect x="657.1" y="760.8" width="1" height="1"/><rect x="691.6" y="808.2" width="1" height="1"/><rect x="650.6" y="776.1" width="1" height="1"/><rect x="712.5" y="809.1" width="1" height="1"/><rect x="748.1" y="807.7" width="1" height="1"/><rect x="676.8" y="773.6" width="1" height="1"/><rect x="687.4" y="809.2" width="1" height="1"/><rect x="663.3" y="759.6" width="1" height="1"/><rect x="670.8" y="778.9" width="1" height="1"/><rect x="717.8" y="762.0" width="1" height="1"/><rect x="688.7" y="785.0" width="1" height="1"/><rect x="708.0" y="788.9" width="1" height="1"/><rect x="729.3" y="746.1" width="1" height="1"/><rect x="755.4" y="802.6" width="1" height="1"/><rect x="691.8" y="772.3" width="1" height="1"/><rect x="653.7" y="790.2" width="1" height="1"/><rect x="667.6" y="754.3" width="1" height="1"/><rect x="684.9" y="746.0" width="1" height="1"/><rect x="653.4" y="769.6" width="1" height="1"/><rect x="721.1" y="753.3" width="1" height="1"/><rect x="673.3" y="768.4" width="1" height="1"/><rect x="688.1" y="751.3" width="1" height="1"/><rect x="701.5" y="778.8" width="1" height="1"/><rect x="685.2" y="762.1" width="1" height="1"/><rect x="749.4" y="754.3" width="1" height="1"/><rect x="709.7" y="753.1" width="1" height="1"/><rect x="711.7" y="744.1" width="1" height="1"/><rect x="709.7" y="816.4" width="1" height="1"/><rect x="754.0" y="794.9" width="1" height="1"/><rect x="674.5" y="769.9" width="1" height="1"/><rect x="662.0" y="800.7" width="1" height="1"/><rect x="710.3" y="801.2" width="1" height="1"/><rect x="683.5" y="759.0" width="1" height="1"/><rect x="752.5" y="803.3" width="1" height="1"/><rect x="748.0" y="798.2" width="1" height="1"/><rect x="669.9" y="781.3" width="1" height="1"/><rect x="686.9" y="744.2" width="1" height="1"/><rect x="674.2" y="794.6" width="1" height="1"/><rect x="766.3" y="776.0" width="1" height="1"/><rect x="766.1" y="769.7" width="1" height="1"/><rect x="669.1" y="759.2" width="1" height="1"/><rect x="666.0" y="757.5" width="1" height="1"/><rect x="722.4" y="810.4" width="1" height="1"/><rect x="750.9" y="778.4" width="1" height="1"/><rect x="726.2" y="802.8" width="1" height="1"/><rect x="651.2" y="792.2" width="1" height="1"/><rect x="739.0" y="778.3" width="1" height="1"/><rect x="663.6" y="802.0" width="1" height="1"/><rect x="683.9" y="802.9" width="1" height="1"/><rect x="693.0" y="814.0" width="1" height="1"/><rect x="735.7" y="754.9" width="1" height="1"/><rect x="659.3" y="804.8" width="1" height="1"/><rect x="686.3" y="783.7" width="1" height="1"/><rect x="709.5" y="813.0" width="1" height="1"/><rect x="697.3" y="808.3" width="1" height="1"/><rect x="749.1" y="758.0" width="1" height="1"/><rect x="673.2" y="764.3" width="1" height="1"/><rect x="671.8" y="786.6" width="1" height="1"/><rect x="674.2" y="773.8" width="1" height="1"/><rect x="686.7" y="776.8" width="1" height="1"/><rect x="717.0" y="810.7" width="1" height="1"/><rect x="695.5" y="811.7" width="1" height="1"/><rect x="706.2" y="782.4" width="1" height="1"/><rect x="709.1" y="743.4" width="1" height="1"/><rect x="698.1" y="755.9" width="1" height="1"/><rect x="662.7" y="778.0" width="1" height="1"/><rect x="735.7" y="784.3" width="1" height="1"/><rect x="683.0" y="781.4" width="1" height="1"/><rect x="713.3" y="801.6" width="1" height="1"/><rect x="654.0" y="784.6" width="1" height="1"/><rect x="672.8" y="763.0" width="1" height="1"/><rect x="741.9" y="780.6" width="1" height="1"/><rect x="714.1" y="799.8" width="1" height="1"/><rect x="760.4" y="775.7" width="1" height="1"/><rect x="720.9" y="780.4" width="1" height="1"/><rect x="707.6" y="794.6" width="1" height="1"/><rect x="699.7" y="782.5" width="1" height="1"/><rect x="703.1" y="813.6" width="1" height="1"/><rect x="732.3" y="808.6" width="1" height="1"/><rect x="713.9" y="813.7" width="1" height="1"/><rect x="656.1" y="775.6" width="1" height="1"/><rect x="649.7" y="792.9" width="1" height="1"/><rect x="743.5" y="810.2" width="1" height="1"/><rect x="660.4" y="796.4" width="1" height="1"/><rect x="727.2" y="752.9" width="1" height="1"/><rect x="692.6" y="779.0" width="1" height="1"/><rect x="661.3" y="774.8" width="1" height="1"/><rect x="708.1" y="767.8" width="1" height="1"/><rect x="665.8" y="766.2" width="1" height="1"/><rect x="713.1" y="775.5" width="1" height="1"/><rect x="722.4" y="780.9" width="1" height="1"/><rect x="653.8" y="762.2" width="1" height="1"/><rect x="675.7" y="751.8" width="1" height="1"/><rect x="695.7" y="811.3" width="1" height="1"/><rect x="748.1" y="761.7" width="1" height="1"/><rect x="715.3" y="795.2" width="1" height="1"/><rect x="730.8" y="774.3" width="1" height="1"/><rect x="723.7" y="802.9" width="1" height="1"/></g>
</g>
</svg>
</body></html>
